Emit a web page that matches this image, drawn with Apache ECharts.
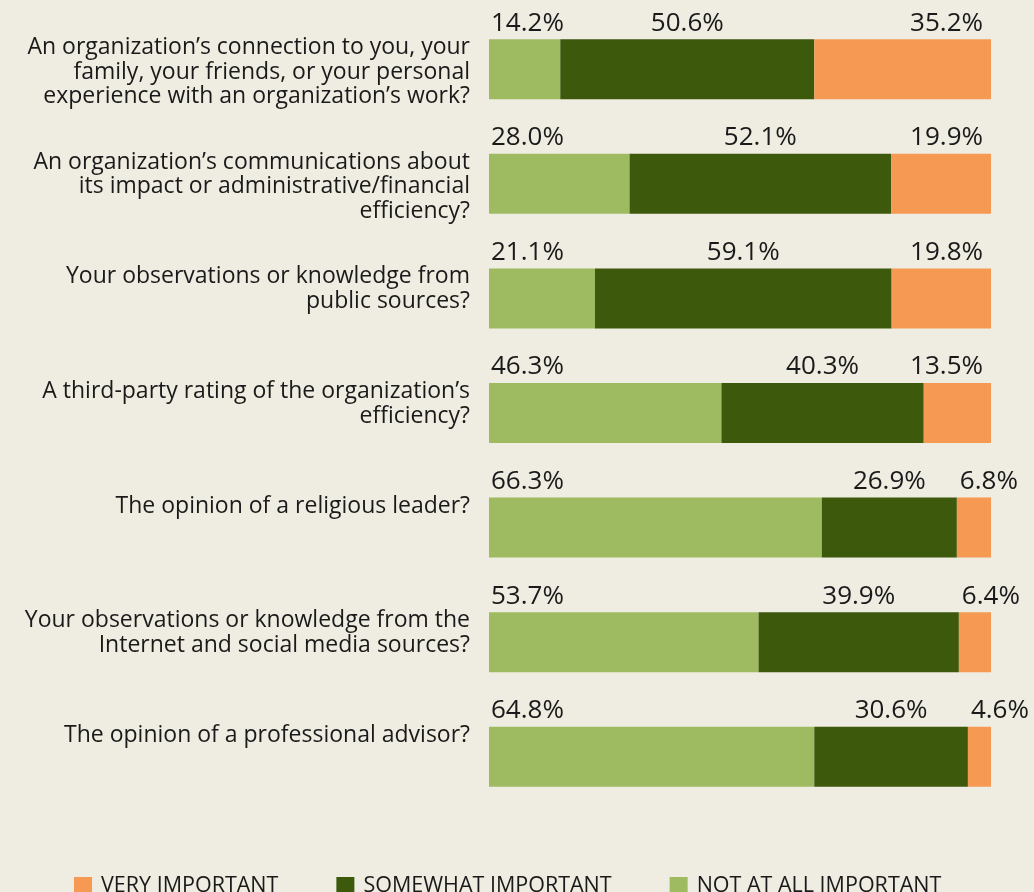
<!DOCTYPE html>
<html>
<head>
<meta charset="utf-8">
<title>Importance of information sources</title>
<script src="https://cdn.jsdelivr.net/npm/echarts@6/dist/echarts.min.js"></script>
<style>
  html, body { margin: 0; padding: 0; background: #efece1; }
  #chart { width: 1034px; height: 892px; }
</style>
</head>
<body>
<div id="chart"></div>
<script>
const questions = [
  'An organization’s connection to you, your\nfamily, your friends, or your personal\nexperience with an organization’s work?',
  'An organization’s communications about\nits impact or administrative/financial\nefficiency?',
  'Your observations or knowledge from\npublic sources?',
  'A third-party rating of the organization’s\nefficiency?',
  'The opinion of a religious leader?',
  'Your observations or knowledge from the\nInternet and social media sources?',
  'The opinion of a professional advisor?'
]

const notAtAll = [14.2, 28.0, 21.1, 46.3, 66.3, 53.7, 64.8]
const somewhat = [50.6, 52.1, 59.1, 40.3, 26.9, 39.9, 30.6]
const veryImportant = [35.2, 19.9, 19.8, 13.5, 6.8, 6.4, 4.6]

const legendNames = ['VERY IMPORTANT', 'SOMEWHAT IMPORTANT', 'NOT AT ALL IMPORTANT']

const labelFont = {
  color: '#1a1a1a',
  fontFamily: 'Open Sans',
  fontSize: 26,
  verticalAlign: 'bottom'
}

const chart = echarts.init(document.getElementById('chart'))

// pad every question to three lines (plus a small spacer on top)
// so the text starts at the bar's top edge
function padLines(text) {
  const lines = text.split('\n')
  while (lines.length < 3) lines.push(' ')
  return ['{s| }'].concat(lines.map((l) => '{t|' + l + '}')).join('\n')
}

chart.setOption({
  backgroundColor: '#efece1',
  animation: false,
  grid: { left: 489, right: 43, top: 12, bottom: 78 },
  xAxis: {
    type: 'value',
    min: 0,
    max: 100,
    show: false
  },
  yAxis: {
    type: 'category',
    inverse: true,
    data: questions,
    axisLine: { show: false },
    axisTick: { show: false },
    axisLabel: {
      margin: 19,
      align: 'right',
      verticalAlign: 'middle',
      formatter: padLines,
      rich: {
        s: { fontSize: 6, lineHeight: 6 },
        t: {
          color: '#1a1a1a',
          fontFamily: 'Open Sans',
          fontSize: 23,
          lineHeight: 24.5
        }
      }
    }
  },
  legend: {
    data: legendNames,
    left: 74,
    top: 875,
    padding: 0,
    icon: 'rect',
    itemWidth: 18,
    itemHeight: 18,
    itemGap: 58,
    textStyle: {
      color: '#1a1a1a',
      fontFamily: 'Open Sans',
      fontSize: 21.5,
      padding: [0, 0, 0, 4]
    }
  },
  series: [
    {
      name: 'NOT AT ALL IMPORTANT',
      type: 'bar',
      stack: 'total',
      barWidth: 60,
      data: notAtAll,
      itemStyle: { color: '#9ebb61' },
      label: {
        show: true,
        ...labelFont,
        position: [2, -3],
        align: 'left',
        formatter: (p) => p.value.toFixed(1) + '%'
      }
    },
    {
      name: 'SOMEWHAT IMPORTANT',
      type: 'bar',
      stack: 'total',
      barWidth: 60,
      data: somewhat,
      itemStyle: { color: '#3d590c' },
      label: {
        show: true,
        ...labelFont,
        position: ['50%', -3],
        align: 'center',
        formatter: (p) => p.value.toFixed(1) + '%'
      }
    },
    {
      name: 'VERY IMPORTANT',
      type: 'bar',
      stack: 'total',
      barWidth: 60,
      // narrow segments get the label at their start, wide ones at the right end
      data: veryImportant.map((v) => ({
        value: v,
        label: v < 10
          ? { position: [3, -3], align: 'left' }
          : { position: ['100%', -3], align: 'right', offset: [-8, 0] }
      })),
      itemStyle: { color: '#f59953' },
      label: {
        show: true,
        ...labelFont,
        formatter: (p) => p.value.toFixed(1) + '%'
      }
    }
  ]
})
</script>
</body>
</html>
